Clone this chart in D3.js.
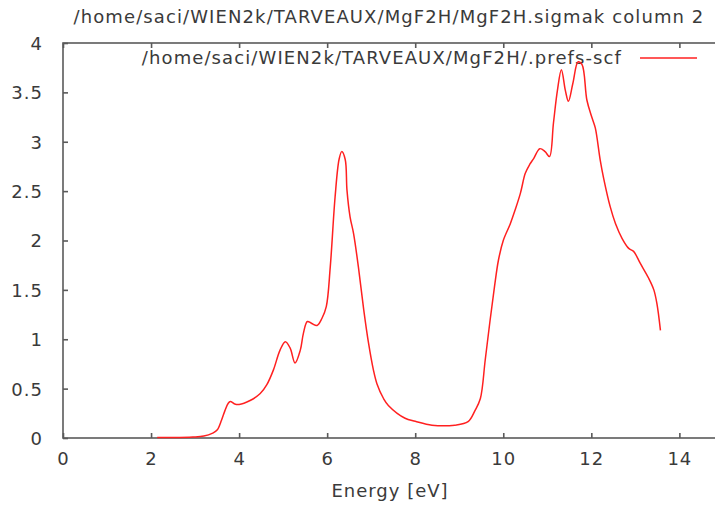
<!DOCTYPE html>
<html>
<head>
<meta charset="utf-8">
<script src="https://cdn.jsdelivr.net/npm/d3@7"></script>
<style>
  body { margin: 0; background: #fff; }
  svg { display: block; }
  text { font-family: "DejaVu Sans", sans-serif; fill: #3a3a3a; }
  .axis text { font-size: 18px; letter-spacing: 1px; }
  .axis path, .axis line { stroke: #5a5a5a; stroke-width: 1.6; }
</style>
</head>
<body>
<div id="chart"></div>
<script>
// /home/saci/WIEN2k/TARVEAUX/MgF2H/MgF2H.sigmak column 2 vs energy
var energy = [2.14, 2.5, 2.95, 3.2, 3.4, 3.5, 3.6, 3.68, 3.75, 3.8, 3.9, 4.0, 4.25, 4.48, 4.63,
  4.78, 4.93, 5.05, 5.16, 5.27, 5.39, 5.46, 5.55, 5.65, 5.77, 5.88, 5.98, 6.07, 6.18, 6.27,
  6.33, 6.41, 6.45, 6.52, 6.6, 6.71, 6.83, 6.94, 7.05, 7.13, 7.28, 7.39, 7.77, 8.0, 8.38,
  8.9, 9.2, 9.36, 9.48, 9.59, 9.7, 9.8, 9.89, 10.0, 10.16, 10.27, 10.39, 10.5, 10.6, 10.69,
  10.83, 10.95, 11.05, 11.14, 11.23, 11.32, 11.41, 11.48, 11.58, 11.7, 11.79, 11.9, 12.01,
  12.09, 12.2, 12.28, 12.43, 12.55, 12.7, 12.85, 12.96, 13.11, 13.3, 13.42, 13.49, 13.57];
var sigma = [0.005, 0.005, 0.01, 0.02, 0.05, 0.08, 0.18, 0.28, 0.35, 0.37, 0.345, 0.34, 0.38, 0.45, 0.54,
  0.69, 0.89, 0.975, 0.91, 0.76, 0.89, 1.06, 1.18, 1.16, 1.14, 1.21, 1.33, 1.73, 2.44, 2.82,
  2.90, 2.82, 2.51, 2.24, 2.07, 1.73, 1.30, 0.96, 0.69, 0.55, 0.40, 0.33, 0.20, 0.17, 0.13,
  0.13, 0.165, 0.28, 0.40, 0.79, 1.19, 1.53, 1.80, 2.0, 2.17, 2.31, 2.48, 2.68, 2.77, 2.83,
  2.93, 2.90, 2.85, 3.19, 3.52, 3.73, 3.52, 3.41, 3.59, 3.81, 3.78, 3.42, 3.25,
  3.14, 2.82, 2.63, 2.34, 2.17, 2.02, 1.92, 1.89, 1.77, 1.62, 1.50, 1.36, 1.09];
var xTicks = [0, 2, 4, 6, 8, 10, 12, 14];
var yTicks = [0, 0.5, 1, 1.5, 2, 2.5, 3, 3.5, 4];
var title = "/home/saci/WIEN2k/TARVEAUX/MgF2H/MgF2H.sigmak column 2";
var seriesName = "/home/saci/WIEN2k/TARVEAUX/MgF2H/.prefs-scf";
var xAxisLegend = "Energy [eV]";

var width = 715,
  height = 506,
  margin = {top: 43, right: -4, bottom: 68, left: 63};

var data = energy.map(function (e, i) { return [e, sigma[i]]; });

var xScale = d3.scaleLinear().domain([0, 14.9]).range([margin.left, width - margin.right]);
var yScale = d3.scaleLinear().domain([0, 4]).range([height - margin.bottom, margin.top]);

var svg = d3.select("#chart").append("svg")
  .attr("width", width)
  .attr("height", height);

// frame (right edge falls outside the picture)
svg.append("rect")
  .attr("x", xScale(0))
  .attr("y", yScale(4))
  .attr("width", xScale(14.9) - xScale(0))
  .attr("height", yScale(0) - yScale(4))
  .attr("fill", "none")
  .attr("stroke", "#5a5a5a")
  .attr("stroke-width", 1.6);

// bottom axis, ticks pointing inward
var gx = svg.append("g").attr("class", "x axis")
  .attr("transform", "translate(0," + yScale(0) + ")")
  .call(d3.axisBottom(xScale)
    .tickValues(xTicks)
    .tickFormat(d3.format("d"))
    .tickSizeInner(-5)
    .tickSizeOuter(0)
    .tickPadding(14));
gx.select(".domain").remove();

// mirrored ticks on top
var gxTop = svg.append("g").attr("class", "axis")
  .attr("transform", "translate(0," + yScale(4) + ")")
  .call(d3.axisTop(xScale).tickValues(xTicks).tickFormat("").tickSizeInner(-5).tickSizeOuter(0));
gxTop.select(".domain").remove();

var gy = svg.append("g").attr("class", "y axis")
  .attr("transform", "translate(" + xScale(0) + ",0)")
  .call(d3.axisLeft(yScale)
    .tickValues(yTicks)
    .tickFormat(function (d) { return String(d); })
    .tickSizeInner(-5)
    .tickSizeOuter(0)
    .tickPadding(20));
gy.select(".domain").remove();
gy.selectAll(".tick text").attr("dy", "0.36em");

// axis legend
svg.append("text")
  .attr("x", 390)
  .attr("y", 497)
  .attr("text-anchor", "middle")
  .style("font-size", "18px")
  .style("letter-spacing", "1px")
  .text(xAxisLegend);

// title
svg.append("text")
  .attr("x", 389)
  .attr("y", 23)
  .attr("text-anchor", "middle")
  .style("font-size", "18px")
  .style("letter-spacing", "1.1px")
  .text(title);

// key
svg.append("text")
  .attr("x", 622)
  .attr("y", 64)
  .attr("text-anchor", "end")
  .style("font-size", "18px")
  .style("letter-spacing", "1.1px")
  .text(seriesName);

svg.append("line")
  .attr("x1", 640)
  .attr("x2", 697)
  .attr("y1", 58)
  .attr("y2", 58)
  .attr("stroke", "#ff2020")
  .attr("stroke-width", 1.5);

var line = d3.line()
  .x(function (d) { return xScale(d[0]); })
  .y(function (d) { return yScale(d[1]); })
  .curve(d3.curveCatmullRom.alpha(0.5));

svg.append("path")
  .datum(data)
  .attr("d", line)
  .attr("fill", "none")
  .attr("stroke", "#ff2020")
  .attr("stroke-width", 1.5);
</script>
</body>
</html>
